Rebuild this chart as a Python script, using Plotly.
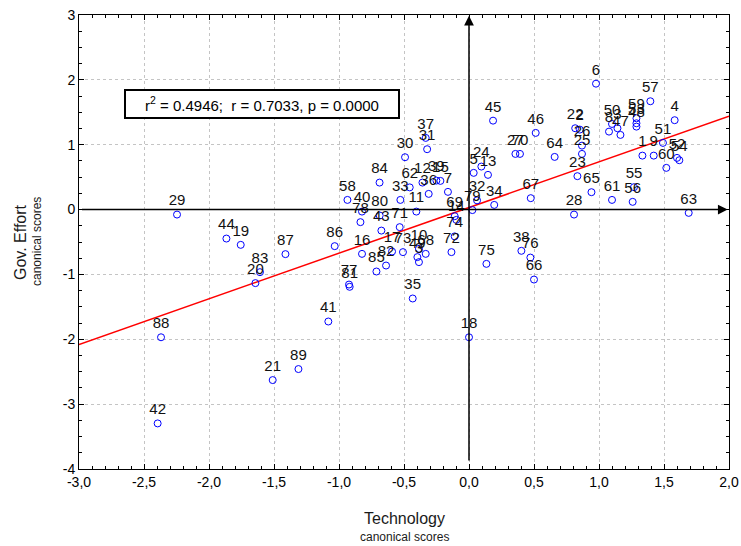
import plotly.graph_objects as go

# ---- data ----
labels = ["6","57","4","59","53","48","50","3","8","47",
          "51","1","9","60","52","54","55","56","61","63",
          "65","28","23","26","2","22","25","64","46","45",
          "27","70","67","24","5","13","32","79","34","69",
          "14","74","72","75","38","76","66","18","35","7",
          "12","39","15","36","37","31","30","84","62","33",
          "11","58","40","78","80","43","71","86","16","17",
          "73","10","68","49","3","85","82","77","81","41",
          "29","44","19","83","20","87","88","42","21","89"]

technology = [0.977,1.395,1.582,1.288,1.288,1.288,1.100,1.142,1.077,1.165,
              1.492,1.334,1.421,1.518,1.600,1.618,1.269,1.259,1.100,1.690,
              0.942,0.808,0.834,0.869,0.852,0.817,0.869,0.659,0.513,0.185,
              0.357,0.392,0.475,0.095,0.036,0.146,0.062,0.026,0.194,-0.110,
              -0.097,-0.110,-0.135,0.134,0.403,0.472,0.500,0.000,-0.433,-0.162,
              -0.358,-0.251,-0.220,-0.310,-0.333,-0.322,-0.492,-0.688,-0.456,-0.528,
              -0.405,-0.935,-0.823,-0.835,-0.687,-0.674,-0.533,-1.033,-0.823,-0.592,
              -0.508,-0.385,-0.333,-0.397,-0.385,-0.712,-0.638,-0.923,-0.918,-1.082,
              -2.246,-1.866,-1.756,-1.608,-1.643,-1.412,-2.369,-2.395,-1.510,-1.312]

gov_effort = [1.941,1.670,1.378,1.408,1.331,1.279,1.320,1.254,1.202,1.151,
              1.028,0.832,0.832,0.643,0.797,0.761,0.345,0.119,0.149,-0.051,
              0.268,-0.077,0.515,0.986,1.233,1.254,0.858,0.812,1.182,1.371,
              0.858,0.858,0.176,0.663,0.566,0.535,0.142,-0.008,0.072,-0.102,
              -0.159,-0.413,-0.656,-0.837,-0.636,-0.740,-1.079,-1.969,-1.371,0.273,
              0.416,0.447,0.442,0.242,1.105,0.931,0.807,0.416,0.342,0.149,
              -0.031,0.149,-0.031,-0.194,-0.092,-0.324,-0.271,-0.564,-0.683,-0.647,
              -0.656,-0.606,-0.683,-0.733,-0.810,-0.955,-0.863,-1.156,-1.191,-1.726,
              -0.077,-0.447,-0.544,-0.965,-1.134,-0.687,-1.969,-3.297,-2.629,-2.459]

fit_x = [-3.0, 2.0]
fit_y = [-2.08, 1.44]

x_tickvals = [-3.0, -2.5, -2.0, -1.5, -1.0, -0.5, 0.0, 0.5, 1.0, 1.5, 2.0]
x_ticktext = ["-3,0", "-2,5", "-2,0", "-1,5", "-1,0", "-0,5", "0,0", "0,5", "1,0", "1,5", "2,0"]
y_tickvals = [3, 2, 1, 0, -1, -2, -3, -4]
y_ticktext = ["3", "2", "1", "0", "-1", "-2", "-3", "-4"]

stats_text = "r<sup>2</sup> = 0.4946;  r = 0.7033, p = 0.0000"

FONT = "Liberation Sans, Arial, sans-serif"

fig = go.Figure()

fig.add_trace(go.Scatter(
    x=fit_x, y=fit_y, mode="lines",
    line=dict(color="#ff0000", width=1.5),
    hoverinfo="skip", showlegend=False))

fig.add_trace(go.Scatter(
    x=technology, y=gov_effort, mode="markers+text",
    text=labels, textposition="top center",
    textfont=dict(family=FONT, size=15, color="#111111"),
    marker=dict(symbol="circle-open", size=7, color="#0000ff",
                line=dict(color="#0000ff", width=1)),
    showlegend=False))

axis_common = dict(
    showline=True, linecolor="black", linewidth=1, mirror="ticks",
    ticks="inside", ticklen=5, tickcolor="black",
    showgrid=True, gridcolor="#c4c4c4", griddash="dot", gridwidth=1,
    zeroline=False, ticklabeloverflow="allow", automargin=False,
    tickfont=dict(family=FONT, size=14, color="black"),
)

fig.update_xaxes(range=[-3, 2], tickmode="array", tickvals=x_tickvals, ticktext=x_ticktext,
                 minor=dict(dtick=0.1, ticks="inside", ticklen=3, tickcolor="black", showgrid=False),
                 **axis_common)
fig.update_yaxes(range=[-4, 3], tickmode="array", tickvals=y_tickvals, ticktext=y_ticktext,
                 minor=dict(dtick=0.25, ticks="inside", ticklen=3, tickcolor="black", showgrid=False),
                 **axis_common)

annotations = [
    # horizontal axis arrow (y = 0)
    dict(x=1.99, y=0, ax=-3, ay=0, xref="x", yref="y", axref="x", ayref="y",
         showarrow=True, arrowhead=2, arrowsize=1.3, arrowwidth=1.5, arrowcolor="black",
         text=" ", standoff=0),
    # vertical axis arrow (x = 0)
    dict(x=0, y=2.99, ax=0, ay=-4, xref="x", yref="y", axref="x", ayref="y",
         showarrow=True, arrowhead=2, arrowsize=1.3, arrowwidth=1.5, arrowcolor="black",
         text=" ", standoff=0),
    dict(x=0.2808, y=0.805, xref="paper", yref="paper", text=stats_text, showarrow=False,
         font=dict(family=FONT, size=15, color="black"),
         bordercolor="black", borderwidth=2, borderpad=3, bgcolor="white",
         width=266, height=20, xanchor="center", yanchor="middle"),
    dict(x=0.5, y=-0.108, xref="paper", yref="paper", text="Technology", showarrow=False,
         font=dict(family=FONT, size=16, color="#1a1a1a"), xanchor="center", yanchor="middle"),
    dict(x=0.5, y=-0.150, xref="paper", yref="paper", text="canonical scores", showarrow=False,
         font=dict(family=FONT, size=12, color="#1a1a1a"), xanchor="center", yanchor="middle"),
    dict(x=-0.0908, y=0.5, xref="paper", yref="paper", text="Gov. Effort", showarrow=False,
         textangle=-90, font=dict(family=FONT, size=16, color="#1a1a1a"),
         xanchor="center", yanchor="middle"),
    dict(x=-0.0646, y=0.5, xref="paper", yref="paper", text="canonical scores", showarrow=False,
         textangle=-90, font=dict(family=FONT, size=12, color="#1a1a1a"),
         xanchor="center", yanchor="middle"),
]

fig.update_layout(
    width=741, height=546,
    margin=dict(l=79, r=12, t=15, b=77, autoexpand=False),
    paper_bgcolor="white", plot_bgcolor="white",
    font=dict(family=FONT),
    annotations=annotations,
    showlegend=False,
)

# remove the default 8px page margin so the 741x546 figure fills the window exactly
fig.write_html("out.html",
               config={"responsive": False, "displayModeBar": False},
               post_script="document.body.style.margin='0';document.body.style.overflow='hidden';")
